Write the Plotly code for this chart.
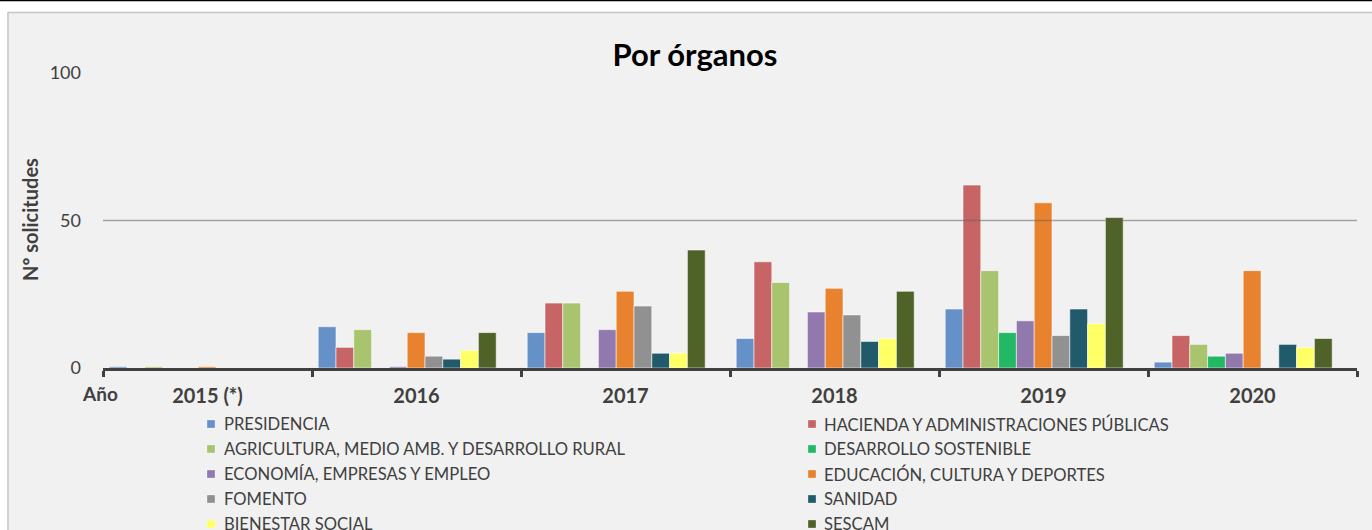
import plotly.graph_objects as go

# ---------------- data ----------------
years = ["2015 (*)", "2016", "2017", "2018", "2019", "2020"]

organos = [
    "PRESIDENCIA",
    "HACIENDA Y ADMINISTRACIONES PÚBLICAS",
    "AGRICULTURA, MEDIO AMB. Y DESARROLLO RURAL",
    "DESARROLLO SOSTENIBLE",
    "ECONOMÍA, EMPRESAS Y EMPLEO",
    "EDUCACIÓN, CULTURA Y DEPORTES",
    "FOMENTO",
    "SANIDAD",
    "BIENESTAR SOCIAL",
    "SESCAM",
]

presidencia = [0.5, 14, 12, 10, 20, 2]
hacienda = [None, 7, 22, 36, 62, 11]
agricultura = [0.5, 13, 22, 29, 33, 8]
desarrollo = [None, None, None, None, 12, 4]
economia = [None, 0.5, 13, 19, 16, 5]
educacion = [0.5, 12, 26, 27, 56, 33]
fomento = [None, 4, 21, 18, 11, None]
sanidad = [None, 3, 5, 9, 20, 8]
bienestar = [None, 6, 5, 10, 15, 7]
sescam = [None, 12, 40, 26, 51, 10]

series = [presidencia, hacienda, agricultura, desarrollo, economia,
          educacion, fomento, sanidad, bienestar, sescam]

colors = ["#6691C8", "#C76466", "#A9C46F", "#23B864", "#9179AE",
          "#E8822E", "#919191", "#215A6A", "#FFFF66", "#4F6228"]

# ---------------- geometry helpers ----------------
W, H = 1372, 530
L, R, T, B = 103, 15, 73, 162
PW, PH = W - L - R, H - T - B
CAT = PW / len(years)


def px(x):
    return (x - L) / PW


def py(y):
    return (H - B - y) / PH


FONT = "Lato, 'Open Sans', sans-serif"
TXT = "#404040"

fig = go.Figure()

slot = 17.8
start = 6.2
for i, (name, vals, col) in enumerate(zip(organos, series, colors)):
    fig.add_trace(go.Bar(
        x=years, y=vals, name=name,
        marker=dict(color=col, line=dict(color="rgba(255,255,255,0.55)", width=1)),
        width=slot / CAT,
        offset=-0.5 + (start + slot * i) / CAT,
        showlegend=False,
    ))

shapes = [
    # chart frame
    dict(type="rect", xref="paper", yref="paper",
         x0=px(8), x1=px(1385), y0=py(545), y1=py(12.5),
         fillcolor="#F1F1F1", line=dict(color="#C4C4C4", width=1.5), layer="below"),
    # top black rule
    dict(type="line", xref="paper", yref="paper",
         x0=px(-5), x1=px(1380), y0=py(0.6), y1=py(0.6),
         line=dict(color="#000000", width=1.2), layer="below"),
    # darker 50 gridline drawn over bars
    dict(type="line", xref="paper", yref="y",
         x0=0, x1=1, y0=50, y1=50,
         line=dict(color="rgba(90,90,90,0.45)", width=1.5), layer="above"),
]

annotations = [
    dict(text="<b>Nº solicitudes</b>", xref="paper", yref="paper",
         x=px(30), y=py(220), xanchor="center", yanchor="middle",
         textangle=-90, showarrow=False,
         font=dict(family=FONT, size=20, color=TXT)),
    dict(text="<b>Año</b>", xref="paper", yref="paper",
         x=px(100), y=py(393), xanchor="center", yanchor="middle",
         showarrow=False,
         font=dict(family=FONT, size=19, color=TXT)),
]

# manual two-column legend
for i, (name, col) in enumerate(zip(organos, colors)):
    row, c = divmod(i, 2)
    cy = 424 + 25 * row
    sx = 207 if c == 0 else 808
    tx = 222 if c == 0 else 822
    shapes.append(dict(type="rect", xref="paper", yref="paper",
                       x0=px(sx), x1=px(sx + 8), y0=py(cy + 4), y1=py(cy - 4),
                       fillcolor=col, line=dict(color="rgba(255,255,255,0.6)", width=0.5),
                       layer="above"))
    annotations.append(dict(text=name, xref="paper", yref="paper",
                            x=px(tx), y=py(cy), xanchor="left", yanchor="middle",
                            showarrow=False,
                            font=dict(family=FONT, size=16.6, color=TXT)))

fig.update_layout(
    width=W, height=H,
    margin=dict(l=L, r=R, t=T, b=B, autoexpand=False),
    paper_bgcolor="#FFFFFF",
    plot_bgcolor="rgba(0,0,0,0)",
    barmode="overlay",
    title=dict(text="<b>Por órganos</b>", x=695 / W, y=1 - 55 / H,
               xanchor="center", yanchor="middle", xref="container", yref="container",
               font=dict(family=FONT, size=31, color="#000000")),
    xaxis=dict(type="category", range=[-0.5, 5.5],
               showline=True, linecolor="#404040", linewidth=3,
               ticks="outside", tickson="boundaries", ticklen=6, tickwidth=3,
               tickcolor="#404040", showgrid=False, ticklabelstandoff=8,
               tickfont=dict(family=FONT, size=20, color=TXT, weight="bold")),
    yaxis=dict(range=[0, 100], tickvals=[0, 50, 100], showgrid=True,
               gridcolor="#D9D9D9", gridwidth=1, zeroline=False, ticks="",
               ticklabelstandoff=21,
               tickfont=dict(family=FONT, size=18, color=TXT)),
    shapes=shapes,
    annotations=annotations,
    showlegend=False,
)

fig.write_html("out.html",
               config={"displayModeBar": False},
               post_script="document.body.style.margin='0px';document.body.style.overflow='hidden';")
